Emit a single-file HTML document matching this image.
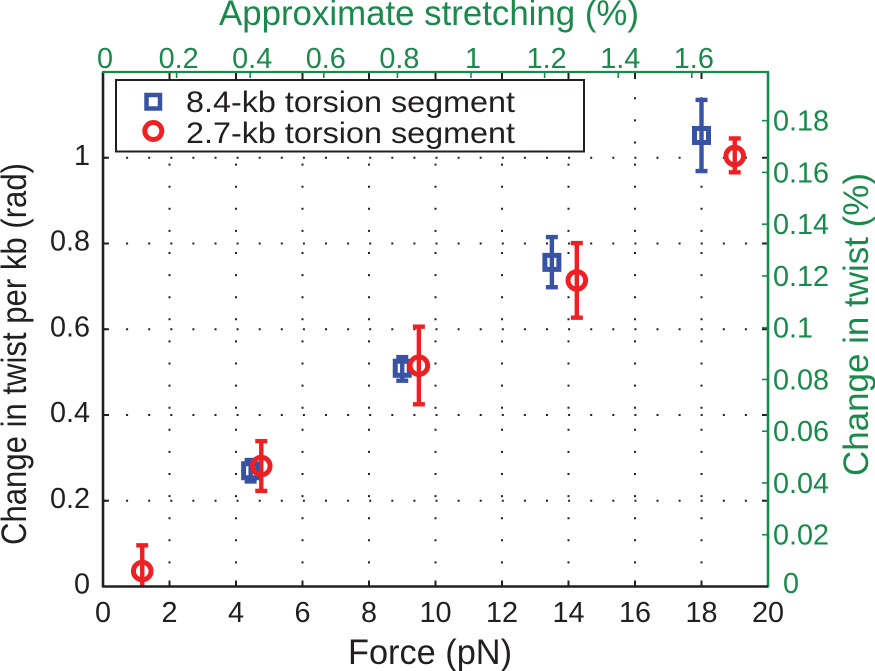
<!DOCTYPE html>
<html lang="en">
<head>
<meta charset="utf-8">
<title>Change in twist versus force</title>
<style>
html,body{margin:0;padding:0;background:#fff;}
svg{display:block;}
text{font-family:"Liberation Sans",Arial,sans-serif;}
</style>
</head>
<body>
<svg id="chart" xmlns="http://www.w3.org/2000/svg" width="875" height="671" viewBox="0 0 875 671">
<defs>
<clipPath id="plot-clip"><rect x="103" y="72" width="665" height="514.5"/></clipPath>
</defs>
<rect x="0" y="0" width="875" height="671" fill="#fff"/>
<g id="grid"></g>
<g id="series" clip-path="url(#plot-clip)"></g>
<g id="axes"></g>
<g id="labels"></g>
<text x="219" y="25" font-size="35" fill="#1a8a4c" textLength="420" lengthAdjust="spacingAndGlyphs">Approximate stretching (%)</text>
<text x="348" y="664" font-size="35" fill="#231f20" textLength="164" lengthAdjust="spacingAndGlyphs">Force (pN)</text>
<text transform="translate(26,545) rotate(-90)" font-size="35" fill="#231f20" textLength="382" lengthAdjust="spacingAndGlyphs">Change in twist per kb (rad)</text>
<text transform="translate(868,476) rotate(-90)" font-size="35" fill="#1a8a4c" textLength="303" lengthAdjust="spacingAndGlyphs">Change in twist (%)</text>
<g>
<rect x="116" y="80" width="468" height="71.5" fill="#fff" stroke="#231f20" stroke-width="2"/>
<rect x="146.5" y="95" width="13.5" height="13.5" fill="none" stroke="#3953a4" stroke-width="4.5"/>
<text x="186" y="112" font-size="30" fill="#231f20" textLength="329" lengthAdjust="spacingAndGlyphs">8.4-kb torsion segment</text>
<circle cx="153.3" cy="131" r="8.5" fill="none" stroke="#ed2024" stroke-width="5"/>
<text x="186" y="143" font-size="30" fill="#231f20" textLength="329" lengthAdjust="spacingAndGlyphs">2.7-kb torsion segment</text>
</g>
</svg>
<script>
const forceTicks = [0, 2, 4, 6, 8, 10, 12, 14, 16, 18, 20];
const twistTicks = [0, 0.2, 0.4, 0.6, 0.8, 1];
const stretchTicks = [0, 0.2, 0.4, 0.6, 0.8, 1, 1.2, 1.4, 1.6];
const percentTicks = [0, 0.02, 0.04, 0.06, 0.08, 0.1, 0.12, 0.14, 0.16, 0.18];

const blueForce = [4.44, 9.0, 13.5, 18.0];
const blueTwist = [0.27, 0.509, 0.756, 1.052];
const blueLow = [0.245, 0.48, 0.698, 0.969];
const blueHigh = [0.295, 0.535, 0.815, 1.135];

const redForce = [1.18, 4.76, 9.5, 14.25, 19.0];
const redTwist = [0.036, 0.281, 0.515, 0.714, 1.004];
const redLow = [-0.024, 0.223, 0.425, 0.627, 0.966];
const redHigh = [0.096, 0.339, 0.606, 0.801, 1.045];

const NS = 'http://www.w3.org/2000/svg';
const GREEN = '#1a8a4c', INK = '#231f20', BLUE = '#3953a4', RED = '#ed2024';
const LEFT = 103, RIGHT = 768, TOP = 72, BOTTOM = 586.5;
const TICK_FONT = 28.8;

const xForce = v => LEFT + (v / 20) * (RIGHT - LEFT);
const yTwist = v => BOTTOM - (v / 1.2) * (BOTTOM - TOP);
const xStretch = v => LEFT + (v / 1.807) * (RIGHT - LEFT);
const yPercent = v => BOTTOM - (v / 0.1988) * (BOTTOM - TOP);

function make(tag, attrs, parent) {
  const el = document.createElementNS(NS, tag);
  for (const k in attrs) el.setAttribute(k, attrs[k]);
  parent.appendChild(el);
  return el;
}
function lineEl(x1, y1, x2, y2, stroke, width, parent) {
  return make('line', {x1: x1, y1: y1, x2: x2, y2: y2, stroke: stroke, 'stroke-width': width}, parent);
}
function labelEl(x, y, str, anchor, fill, parent) {
  const t = make('text', {x: x, y: y, 'text-anchor': anchor, 'font-size': TICK_FONT, fill: fill}, parent);
  t.textContent = str;
  return t;
}

const grid = document.getElementById('grid');
const axes = document.getElementById('axes');
const labels = document.getElementById('labels');
const series = document.getElementById('series');

forceTicks.forEach(v => {
  const x = xForce(v);
  if (v > 0 && v < 20) {
    const g = lineEl(x, BOTTOM - 1, x, TOP, INK, 2, grid);
    g.setAttribute('stroke-dasharray', '2 20.1');
    
    
    const tb = lineEl(x, BOTTOM, x, BOTTOM - 6, INK, 2, axes);
    
    
    const tt = lineEl(x, TOP, x, TOP + 7, INK, 2, axes);
    
    
  }
  const l = labelEl(x, 622, String(v), 'middle', INK, labels);
  
  
});

twistTicks.forEach(v => {
  const y = yTwist(v);
  if (v > 0) {
    const g = lineEl(LEFT + 1, y, RIGHT, y, INK, 2, grid);
    g.setAttribute('stroke-dasharray', '2 20.1');
    
    
    const tl = lineEl(LEFT, y, LEFT + 6, y, INK, 2, axes);
    
    
    const tr = lineEl(RIGHT, y, RIGHT - 6, y, INK, 2, axes);
    
    
  }
  const l = labelEl(90, y + 7, String(v), 'end', INK, labels);
  
  
});

stretchTicks.forEach(v => {
  const x = xStretch(v);
  if (v > 0) {
    const t = lineEl(x, TOP, x, TOP + 6, GREEN, 1.6, axes);
    
    
  }
  const l = labelEl(x + 2, 68, String(v), 'middle', GREEN, labels);
  
  
});

percentTicks.forEach(v => {
  const y = yPercent(v);
  if (v > 0) {
    const t = lineEl(RIGHT, y, RIGHT - 6, y, GREEN, 1.6, axes);
    
    
  }
  const l = labelEl(v === 0 ? 783 : 773, v === 0 ? 593 : y + 10, String(v), 'start', GREEN, labels);
  
  
});

const leftSpine = lineEl(LEFT, TOP, LEFT, BOTTOM + 1, INK, 2.6, axes);


const topSpine = lineEl(LEFT - 1, TOP, RIGHT + 1, TOP, GREEN, 2.2, axes);


const rightSpine = lineEl(RIGHT, TOP, RIGHT, BOTTOM + 1, GREEN, 2.6, axes);


const bottomSpine = lineEl(LEFT, BOTTOM, RIGHT, BOTTOM, INK, 2.6, axes);



function errorBar(x, lo, hi, color, parent) {
  const g = make('g', {}, parent);
  const capW = 6;
  lineEl(x, yTwist(lo), x, yTwist(hi), color, 4.4, g);
  lineEl(x - capW, yTwist(lo), x + capW, yTwist(lo), color, 4.4, g);
  lineEl(x - capW, yTwist(hi), x + capW, yTwist(hi), color, 4.4, g);
  return g;
}

blueForce.forEach((f, i) => {
  const x = xForce(f);
  const e = errorBar(x, blueLow[i], blueHigh[i], BLUE, series);
  
  
  const m = make('rect', {x: x - 7, y: yTwist(blueTwist[i]) - 7, width: 14, height: 14, fill: 'none', stroke: BLUE, 'stroke-width': 5}, series);
  
  
});

redForce.forEach((f, i) => {
  const x = xForce(f);
  const e = errorBar(x, redLow[i], redHigh[i], RED, series);
  
  
  const m = make('circle', {cx: x, cy: yTwist(redTwist[i]), r: 8.8, fill: 'none', stroke: RED, 'stroke-width': 5}, series);
  
  
});
</script>
</body>
</html>
